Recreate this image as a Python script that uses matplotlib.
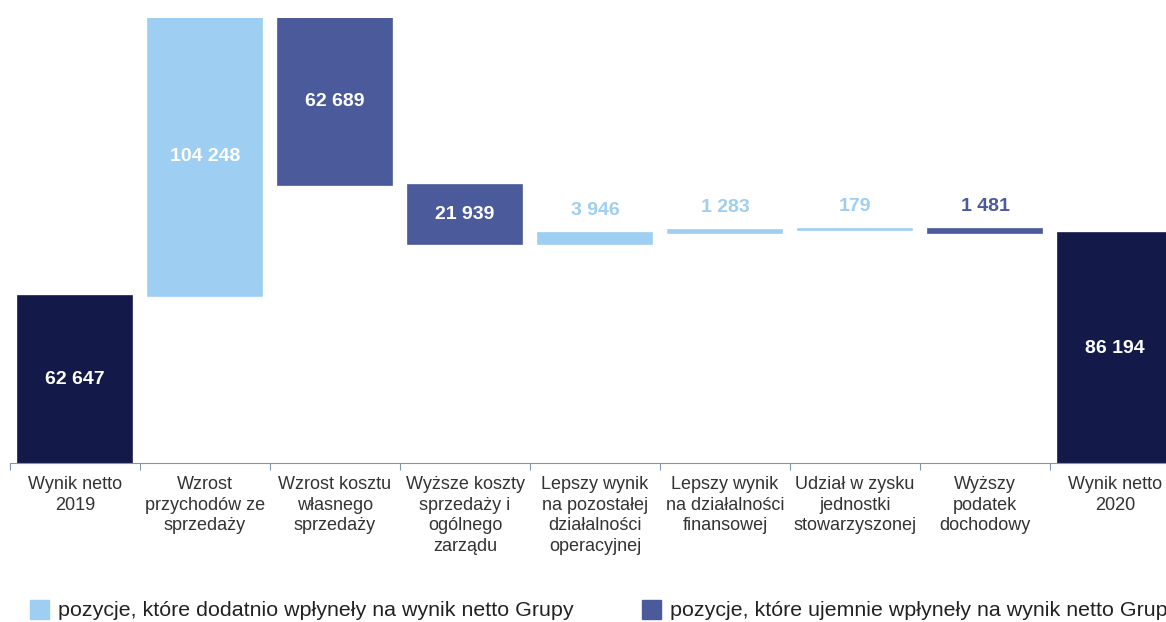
import numpy as np
import matplotlib.pyplot as plt
from matplotlib.patches import Rectangle

plt.rcParams['font.family'] = ['Liberation Sans', 'DejaVu Sans']

# data
categories = ['Wynik netto\n2019', 'Wzrost\nprzychodów ze\nsprzedaży', 'Wzrost kosztu\nwłasnego\nsprzedaży',
              'Wyższe koszty\nsprzedaży i\nogólnego\nzarządu', 'Lepszy wynik\nna pozostałej\ndziałalności\noperacyjnej',
              'Lepszy wynik\nna działalności\nfinansowej', 'Udział w zysku\njednostki\nstowarzyszonej',
              'Wyższy\npodatek\ndochodowy', 'Wynik netto\n2020']
changes = [62647, 104248, -62689, -21939, 3946, 1283, 179, -1481]
start_value = 62647
end_value = 86194
value_labels = ['62 647', '104 248', '62 689', '21 939', '3 946', '1 283', '179', '1 481', '86 194']
legend_labels = ['pozycje, które dodatnio wpłyneły na wynik netto Grupy',
                 'pozycje, które ujemnie wpłyneły na wynik netto Grupy']

c_pos = '#9ECFF2'
c_neg = '#4A5A9A'
c_total = '#131A4A'

fig = plt.figure(figsize=(11.66, 6.22), dpi=100)
# axes: x from 10px to 1180px, y baseline at 463px, top at 18px
ax = fig.add_axes([10 / 1166, (622 - 463) / 622, 1170 / 1166, 445 / 622])

x = np.arange(len(categories))
bottoms = []
heights = []
colors = []
running = 0
for i, v in enumerate(changes):
    if i == 0:
        bottoms.append(0)
        heights.append(v)
        colors.append(c_total)
        running = v
    else:
        if v >= 0:
            bottoms.append(running)
            colors.append(c_pos)
        else:
            bottoms.append(running + v)
            colors.append(c_neg)
        heights.append(abs(v))
        running += v
bottoms.append(0)
heights.append(end_value)
colors.append(c_total)

# thin edge so the very small bars stay visible
ax.bar(x, heights, bottom=bottoms, width=0.88, color=colors, edgecolor=colors, linewidth=1.2)

ax.set_xlim(-0.5, len(categories) - 0.5)
ax.set_ylim(0, max(b + h for b, h in zip(bottoms, heights)))

for i in range(len(categories)):
    b, h = bottoms[i], heights[i]
    if h > 15000:
        ax.text(x[i], b + h / 2, value_labels[i], ha='center', va='center',
                color='white', fontsize=14, fontweight='bold')
    else:
        ax.annotate(value_labels[i], (x[i], b + h), xytext=(0, 10), textcoords='offset points',
                    ha='center', va='bottom', color=colors[i], fontsize=14, fontweight='bold')

for s in ['top', 'right', 'left']:
    ax.spines[s].set_visible(False)
ax.spines['bottom'].set_color('#7F96AE')
ax.set_yticks([])
ax.set_xticks(np.arange(len(categories) + 1) - 0.5)
ax.set_xticklabels([])
ax.tick_params(axis='x', length=5, color='#7F96AE')
for i, lab in enumerate(categories):
    ax.text(x[i], -0.03 * ax.get_ylim()[1], lab, ha='center', va='top', fontsize=13,
            color='#333333', linespacing=1.27)

# legend
fig.patches.append(Rectangle((30 / 1166, 3 / 622), 19 / 1166, 19 / 622, transform=fig.transFigure,
                             color=c_pos))
fig.text(58 / 1166, 12 / 622, legend_labels[0], fontsize=15.4, color='#222222', va='center')
fig.patches.append(Rectangle((642 / 1166, 3 / 622), 19 / 1166, 19 / 622, transform=fig.transFigure,
                             color=c_neg))
fig.text(670 / 1166, 12 / 622, legend_labels[1], fontsize=15.4, color='#222222', va='center')

fig.savefig('out.png', dpi=100)
